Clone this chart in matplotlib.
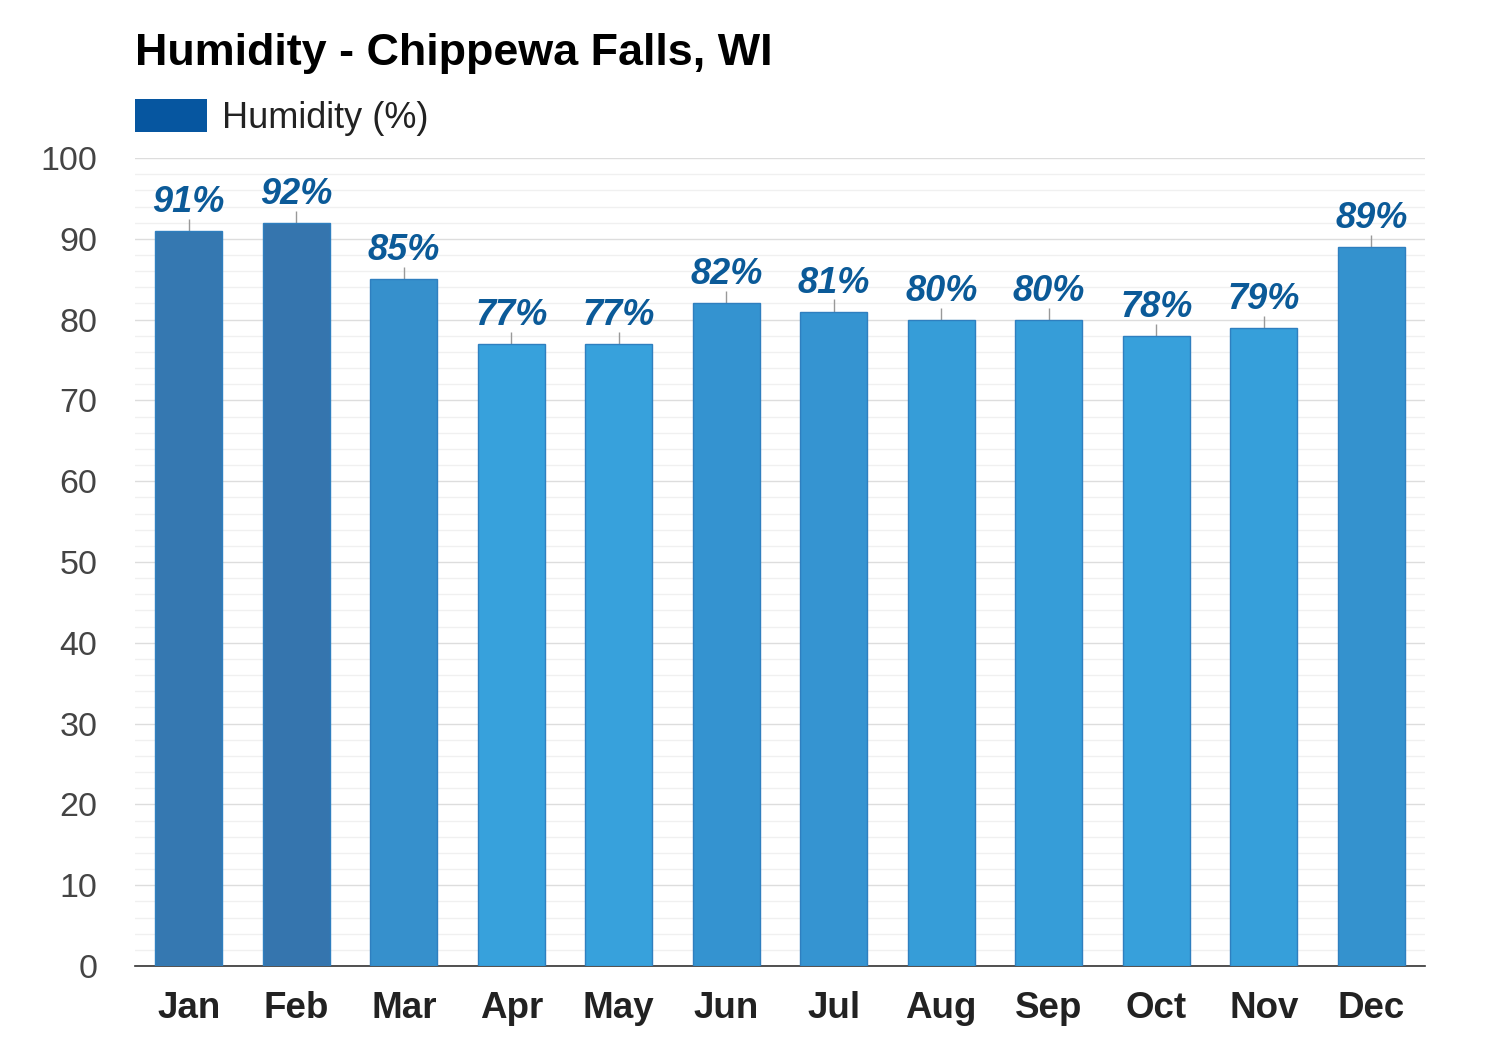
import numpy as np
import matplotlib.pyplot as plt
from matplotlib.patches import Patch

plt.rcParams['font.family'] = ['Liberation Sans', 'DejaVu Sans']

months = ['Jan', 'Feb', 'Mar', 'Apr', 'May', 'Jun', 'Jul', 'Aug', 'Sep', 'Oct', 'Nov', 'Dec']
humidity = [91, 92, 85, 77, 77, 82, 81, 80, 80, 78, 79, 89]
bar_colors = ['#3578b1', '#3575ae', '#3690cc', '#37a1dc', '#37a1dc', '#3493d0',
              '#3594d1', '#369dd8', '#369dd8', '#37a0db', '#369fda', '#3492ce']

fig = plt.figure(figsize=(15, 10.5), dpi=100)
ax = fig.add_axes([0.09, 0.08, 0.86, 0.7695])

x = np.arange(len(months))
ax.bar(x, humidity, width=0.62, color=bar_colors, edgecolor='#2f7fbf', linewidth=1, zorder=3)

# leader lines + labels
for i, v in enumerate(humidity):
    ax.vlines(i, v, v + 1.5, color='#999999', linewidth=1, zorder=2)
    ax.annotate(f'{v}%', xy=(i, v), xytext=(0, 19), textcoords='offset pixels',
                ha='center', va='baseline', fontsize=26, fontweight='bold',
                fontstyle='italic', color='#0b5a98', zorder=4)

ax.set_xlim(-0.5, 11.5)
ax.set_ylim(0, 100)
ax.set_yticks(range(0, 101, 10))
ax.set_yticks(range(0, 101, 2), minor=True)
ax.set_xticks(x)
ax.set_xticklabels(months, fontsize=26.5, fontweight='bold', color='#222222')
ax.tick_params(axis='y', which='both', length=0, labelsize=24.5, labelcolor='#444444', pad=27)
ax.tick_params(axis='x', length=0, pad=18)

ax.grid(axis='y', which='major', color='#dddddd', linewidth=1, zorder=0)
ax.grid(axis='y', which='minor', color='#f0f0f0', linewidth=1, zorder=0)
ax.set_axisbelow(True)

for s in ['top', 'right', 'left']:
    ax.spines[s].set_visible(False)
ax.spines['bottom'].set_color('#333333')
ax.spines['bottom'].set_linewidth(1.2)

fig.text(0.09, 0.938, 'Humidity - Chippewa Falls, WI', fontsize=32.3, fontweight='bold',
         color='#000000', ha='left', va='baseline')

leg = fig.legend(handles=[Patch(facecolor='#0656a0', edgecolor='none')], labels=['Humidity (%)'],
                 loc='upper left', bbox_to_anchor=(0.09, 0.906), frameon=False,
                 borderpad=0, borderaxespad=0,
                 fontsize=26, handlelength=2.0, handleheight=1.03, handletextpad=0.42)
for t in leg.get_texts():
    t.set_color('#222222')

fig.savefig('out.png', dpi=100, facecolor='white')
